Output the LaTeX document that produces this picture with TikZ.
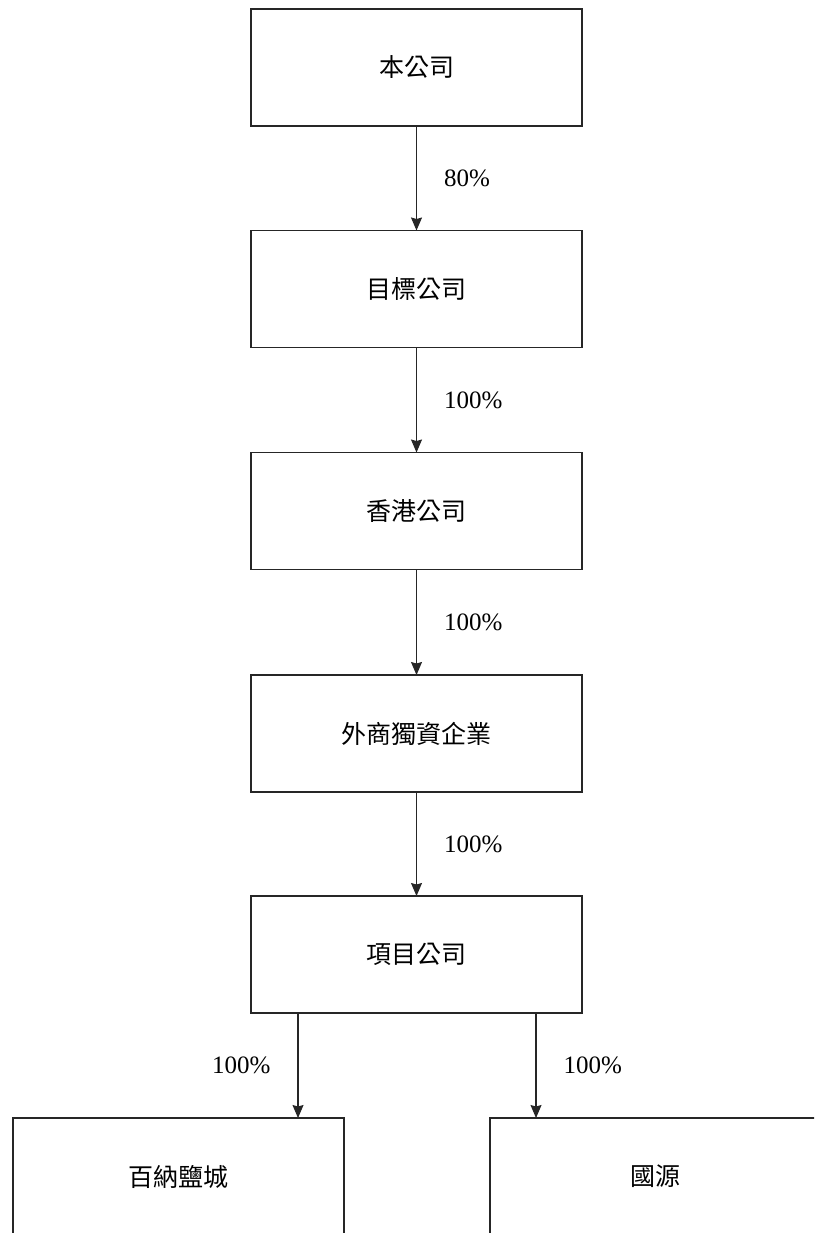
\documentclass[tikz,border=0pt]{standalone}
\usepackage{fontspec}
\setmainfont{Liberation Serif}
\newfontfamily\cjk{Noto Sans CJK TC}
\usetikzlibrary{arrows.meta,calc}
\begin{document}
\begin{tikzpicture}[x=1pt,y=-1pt,
  box/.style={draw=black!85, line width=1.1pt, rectangle, minimum width=331pt, minimum height=117pt, inner sep=0pt, outer sep=0pt, font=\cjk\fontsize{25}{30}\selectfont},
  arr/.style={draw=black!85, line width=1.1pt, -{Stealth[length=13pt,width=11pt,inset=1.5pt]}},
  pct/.style={inner sep=0pt, font=\fontsize{25}{30}\selectfont}]
\useasboundingbox (0,0) rectangle (814,1233);
\clip (0,0) rectangle (814,1233);
\node[box] (B1) at (416.5,67.5) {本公司};
\node[box] (B2) at (416.5,289) {目標公司};
\node[box] (B3) at (416.5,511) {香港公司};
\node[box] (B4) at (416.5,733.5) {外商獨資企業};
\node[box] (B5) at (416.5,954.5) {項目公司};
\node[box] (L) at (178.5,1176.5) {百納鹽城};
\node[box] (R) at (655.5,1176.5) {國源};
\coordinate (xa) at (298,0);
\coordinate (xb) at (536,0);
\draw[arr] (B1) -- node[pct, anchor=west, xshift=27pt] (p1) {80\%} (B2);
\draw[arr] (B2) -- node[pct, anchor=west, xshift=27pt] (p2) {100\%} (B3);
\draw[arr] (B3) -- node[pct, anchor=west, xshift=27pt] (p3) {100\%} (B4);
\draw[arr] (B4) -- node[pct, anchor=west, xshift=27pt] (p4) {100\%} (B5);
\draw[arr] (B5.south -| xa) -- node[pct, anchor=east, xshift=-27pt] (p5) {100\%} (L.north -| xa);
\draw[arr] (B5.south -| xb) -- node[pct, anchor=west, xshift=27pt] (p6) {100\%} (R.north -| xb);
\end{tikzpicture}
\end{document}
